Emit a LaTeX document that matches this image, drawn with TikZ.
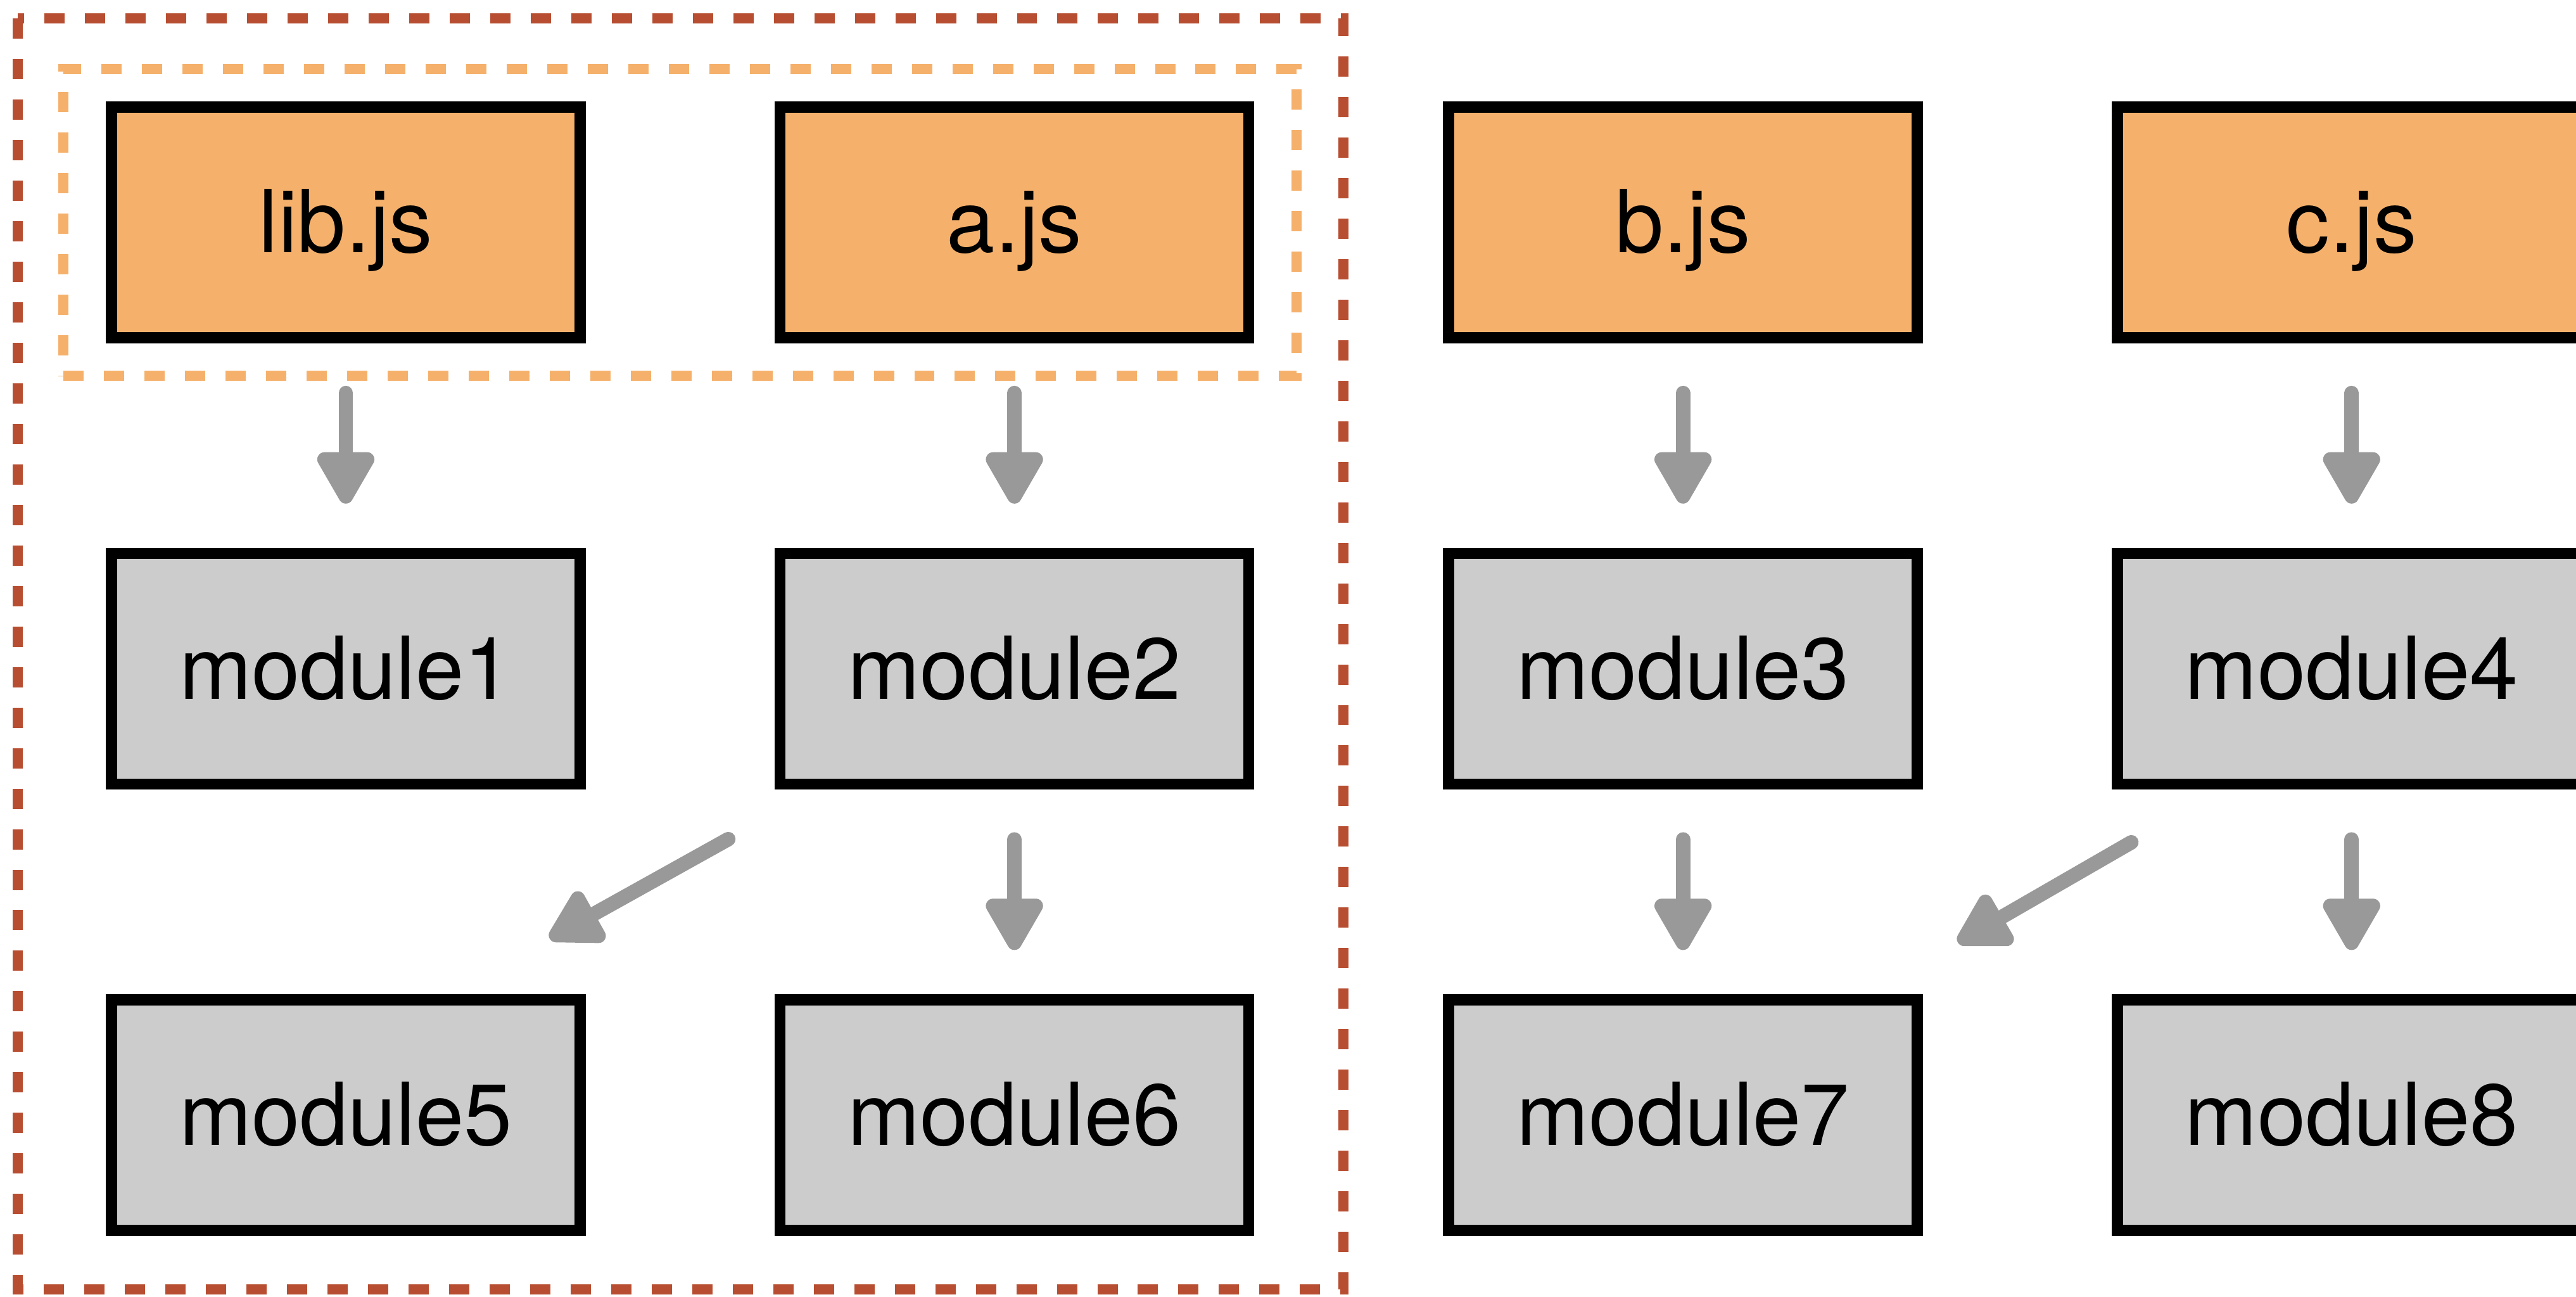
\documentclass[tikz,border=0pt]{standalone}
\usepackage{fontspec}
\setmainfont{TeX Gyre Heros}
\usepackage{tikz}
\usetikzlibrary{positioning}
\usetikzlibrary{arrows.meta,fit}
\definecolor{jsorange}{HTML}{F5B16C}
\definecolor{modgray}{HTML}{CCCCCC}
\definecolor{arrowgray}{HTML}{999999}
\definecolor{chunkred}{HTML}{B84E31}
\tikzset{basic/.style={draw,line width=5pt,minimum width=7.4cm,minimum height=3.64cm,text height=1cm,text depth=0.05cm,font=\fontsize{39}{46}\selectfont}}
\tikzset{entry/.style={basic,fill=jsorange}}
\tikzset{module/.style={basic,fill=modgray}}
\tikzset{chunk/.style={line width=4.5pt,dash pattern=on 9.1pt off 9.1pt}}
\tikzstyle{arrow}=[draw=arrowgray, line width=6.5pt, line cap=round, -{Triangle[length=0.94cm,width=1cm,round]}]
\tikzstyle{vertarrow}=[arrow, shorten <=0.785cm, shorten >=0.7cm]

\begin{document}
\begin{tikzpicture}[node distance=3.23cm and 2.98cm]
        \useasboundingbox (0,0) rectangle (40.67,-20.46);
        \clip (0,0) rectangle (40.67,-20.46);

        \node[entry] (lib) at (5.46,-3.51) {lib.js};
        \node[entry,right=of lib] (a) {a.js};
        \node[entry,right=of a] (b) {b.js};
        \node[entry,right=of b] (c) {c.js};

        \node[module,below=of lib] (m1) {module1};
        \node[module,below=of a] (m2) {module2};
        \node[module,below=of b] (m3) {module3};
        \node[module,below=of c] (m4) {module4};

        \node[module,below=of m1] (m5) {module5};
        \node[module,below=of m2] (m6) {module6};
        \node[module,below=of m3] (m7) {module7};
        \node[module,below=of m4] (m8) {module8};

        % dashed chunks
        \node[chunk,draw=jsorange,fit=(lib)(a),inner xsep=0.67cm,inner ysep=0.51cm] (entries) {};
        \draw[chunk,draw=chunkred] ([shift={(-1.39,1.31)}]lib.north west) rectangle ([shift={(1.41,-0.84)}]m6.south east);

            \path[vertarrow] (lib) -- (m1);
            \path[vertarrow] (a) -- (m2);
            \path[vertarrow] (b) -- (m3);
            \path[vertarrow] (c) -- (m4);
            \path[vertarrow] (m2) -- (m6);
            \path[vertarrow] (m3) -- (m7);
            \path[vertarrow] (m4) -- (m8);
            \path[arrow] ([shift={(-0.73,-0.78)}]m2.south west) -- ([shift={(-0.57,0.88)}]m5.north east);
            \path[arrow] ([shift={(0.31,-0.83)}]m4.south west) -- ([shift={(0.55,0.82)}]m7.north east);
\end{tikzpicture}
\end{document}
